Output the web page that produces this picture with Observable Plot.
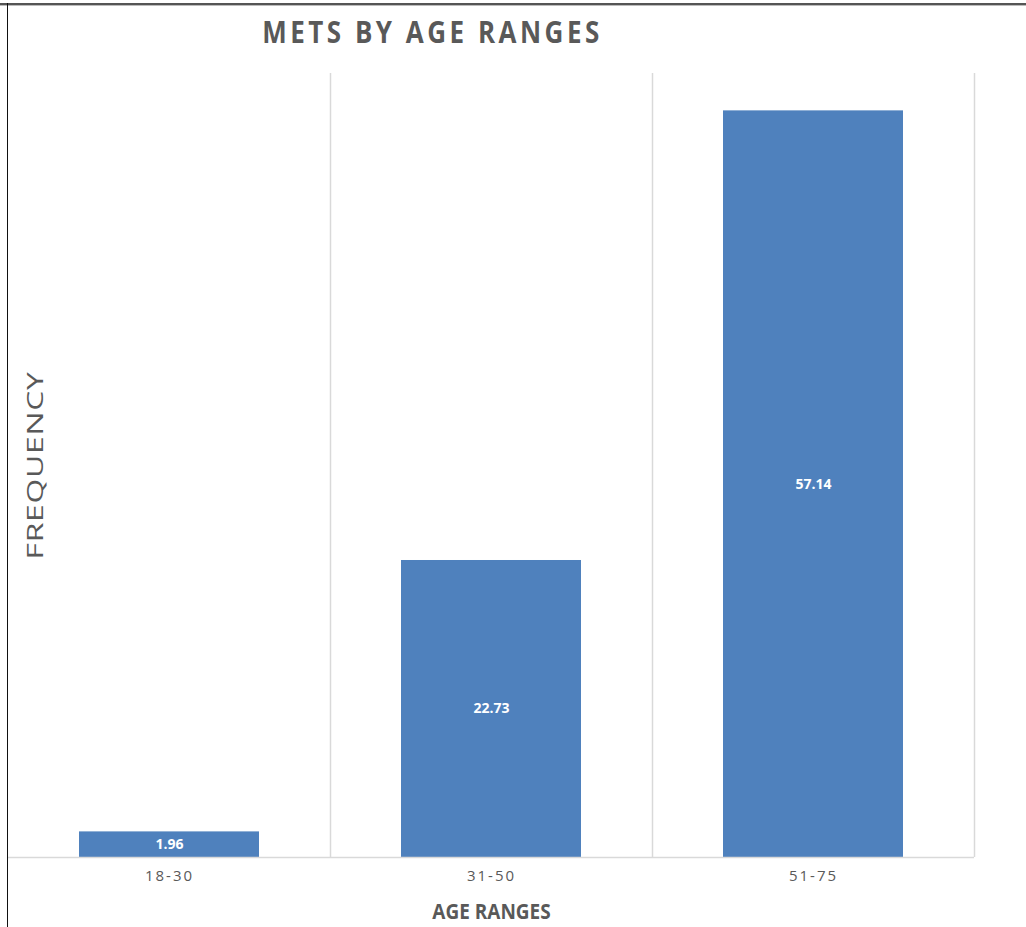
<!DOCTYPE html>
<html>
<head>
<meta charset="utf-8">
<script src="https://cdn.jsdelivr.net/npm/d3@7"></script>
<script src="https://cdn.jsdelivr.net/npm/@observablehq/plot@0.6"></script>
<style>
  html, body { margin: 0; padding: 0; background: #fff; }
  #wrap { position: relative; width: 1026px; height: 927px; overflow: hidden; }
  #topline { position: absolute; left: 0; top: 3px; width: 1026px; height: 2px; background: #555; }
  #topline2 { position: absolute; left: 0; top: 5px; width: 1026px; height: 1px; background: #bbb; }
  #leftline { position: absolute; left: 7px; top: 3px; width: 1px; height: 924px; background: #111; }
</style>
</head>
<body>
<div id="wrap"></div>
<script>
const categories = ["18-30", "31-50", "51-75"];
const values = [1.96, 22.73, 57.14];
const title = "METS BY AGE RANGES";
const xLabel = "AGE RANGES";
const yLabel = "FREQUENCY";

const data = categories.map((c, i) => ({category: c, value: values[i]}));

const W = 1026, H = 927;
const mL = 8, mR = 52, mT = 73, mB = 70;
const step = (W - mL - mR) / categories.length;
const gray = "#595959";

const chart = Plot.plot({
  width: W,
  height: H,
  marginLeft: mL,
  marginRight: mR,
  marginTop: mT,
  marginBottom: mB,
  style: {fontFamily: "'Open Sans', sans-serif", background: "transparent"},
  x: {type: "band", domain: categories, paddingInner: 0.441, paddingOuter: 0.2205, label: null, axis: null},
  y: {domain: [0, 60], axis: null},
  marks: [
    Plot.ruleX(categories, {x: d => d, dx: step / 2, y1: 0, y2: 60, stroke: "#d9d9d9", strokeWidth: 1.5}),
    Plot.barY(data, {x: "category", y: "value", fill: "#4F81BD"}),
    Plot.ruleY([0], {stroke: "#d9d9d9", strokeWidth: 1.5}),
    Plot.axisX({tickSize: 0, tickPadding: 13, fontSize: 15, fill: gray, label: null}),
    Plot.text(data, {x: "category", y: d => d.value / 2, text: d => d.value.toFixed(2), fill: "white", fontWeight: "bold", fontSize: 14}),
    Plot.text([title], {frameAnchor: "top-left", dx: 424, dy: -40, text: d => d, textAnchor: "middle", lineAnchor: "middle", fontSize: 26, fontWeight: "bold", fill: gray}),
    Plot.text([xLabel], {frameAnchor: "bottom", dy: 54, text: d => d, lineAnchor: "middle", fontSize: 19, fontWeight: "bold", fill: gray}),
    Plot.text([yLabel], {frameAnchor: "left", dx: 27, text: d => d, rotate: -90, textAnchor: "middle", lineAnchor: "middle", fontSize: 22, fill: gray})
  ]
});

const wrap = document.getElementById("wrap");
wrap.appendChild(chart);
["topline", "topline2", "leftline"].forEach(id => {
  const d = document.createElement("div"); d.id = id; wrap.appendChild(d);
});

const svg = d3.select(chart);
svg.selectAll("g[aria-label='x-axis tick label'] text").style("letter-spacing", "2px");
svg.selectAll("g[aria-label='text'] text").each(function() {
  const t = this.textContent;
  const sel = d3.select(this);
  const tr = sel.attr("transform") || "";
  if (t === title) {
    sel.style("letter-spacing", "3.5px").attr("transform", tr + " scale(1,1.2)");
  }
  if (t === xLabel) {
    sel.attr("transform", tr + " scale(1,1.15)");
  }
  if (t === yLabel) {
    sel.style("letter-spacing", "0.5px").attr("transform", tr + " scale(1.45,1)");
  }
});
</script>
</body>
</html>
